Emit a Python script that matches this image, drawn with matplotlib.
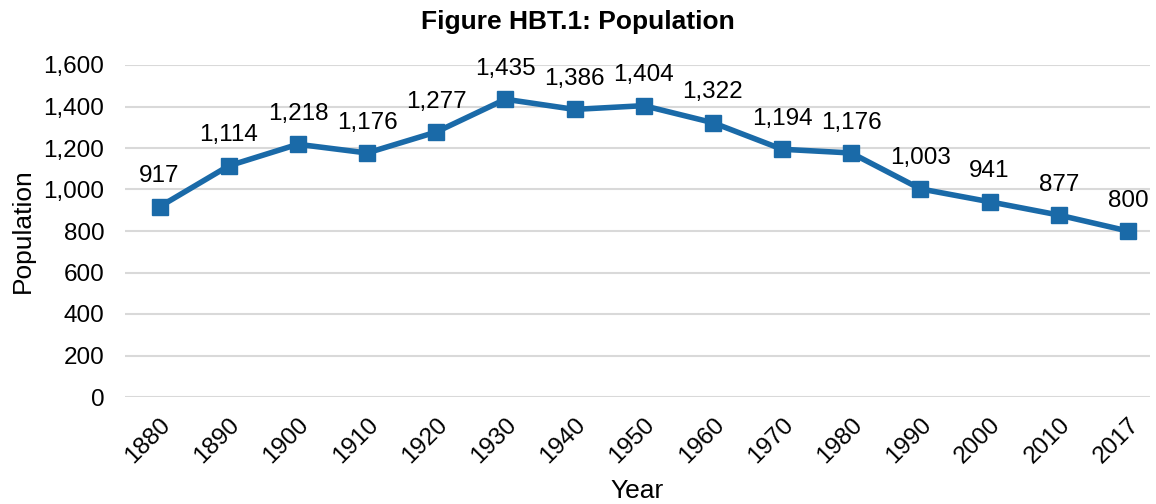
import matplotlib
matplotlib.use('Agg')
import matplotlib.pyplot as plt

# data
years = ['1880', '1890', '1900', '1910', '1920', '1930', '1940', '1950',
         '1960', '1970', '1980', '1990', '2000', '2010', '2017']
population = [917, 1114, 1218, 1176, 1277, 1435, 1386, 1404,
              1322, 1194, 1176, 1003, 941, 877, 800]
yticks = [0, 200, 400, 600, 800, 1000, 1200, 1400, 1600]

plt.rcParams['font.family'] = ['Liberation Sans', 'DejaVu Sans']
blue = '#1a6aa8'

fig = plt.figure(figsize=(11.56, 5.04), dpi=100)
ax = fig.add_axes([125 / 1156, 107 / 504, 1025 / 1156, 332 / 504])

x = list(range(len(years)))
ax.plot(x, population, color=blue, lw=4, marker='s', ms=11, zorder=3)

# value labels above each point
for xi, v in zip(x, population):
    ax.annotate(f'{v:,}', (xi, v), xytext=(0, 14), textcoords='offset points',
                ha='center', va='bottom', fontsize=17.5)

ax.set_xlim(-0.5, 14.32)
ax.set_ylim(0, 1600)
ax.set_yticks(yticks)
ax.set_yticklabels([f'{t:,}' for t in yticks], fontsize=17.5)
ax.set_xticks(x)
ax.set_xticklabels(years, rotation=45, ha='right', rotation_mode='anchor', fontsize=17.5)
ax.tick_params(axis='y', length=0, pad=15)
ax.tick_params(axis='x', length=0, pad=12)
ax.grid(axis='y', color='#d9d9d9', lw=1.5)
ax.set_axisbelow(True)
for s in ax.spines.values():
    s.set_visible(False)

ax.set_ylabel('Population', fontsize=19, labelpad=6)
ax.set_xlabel('Year', fontsize=19, labelpad=8)
fig.suptitle('Figure HBT.1: Population', fontsize=19, fontweight='bold', y=0.98)

fig.savefig('out.png', dpi=100)
